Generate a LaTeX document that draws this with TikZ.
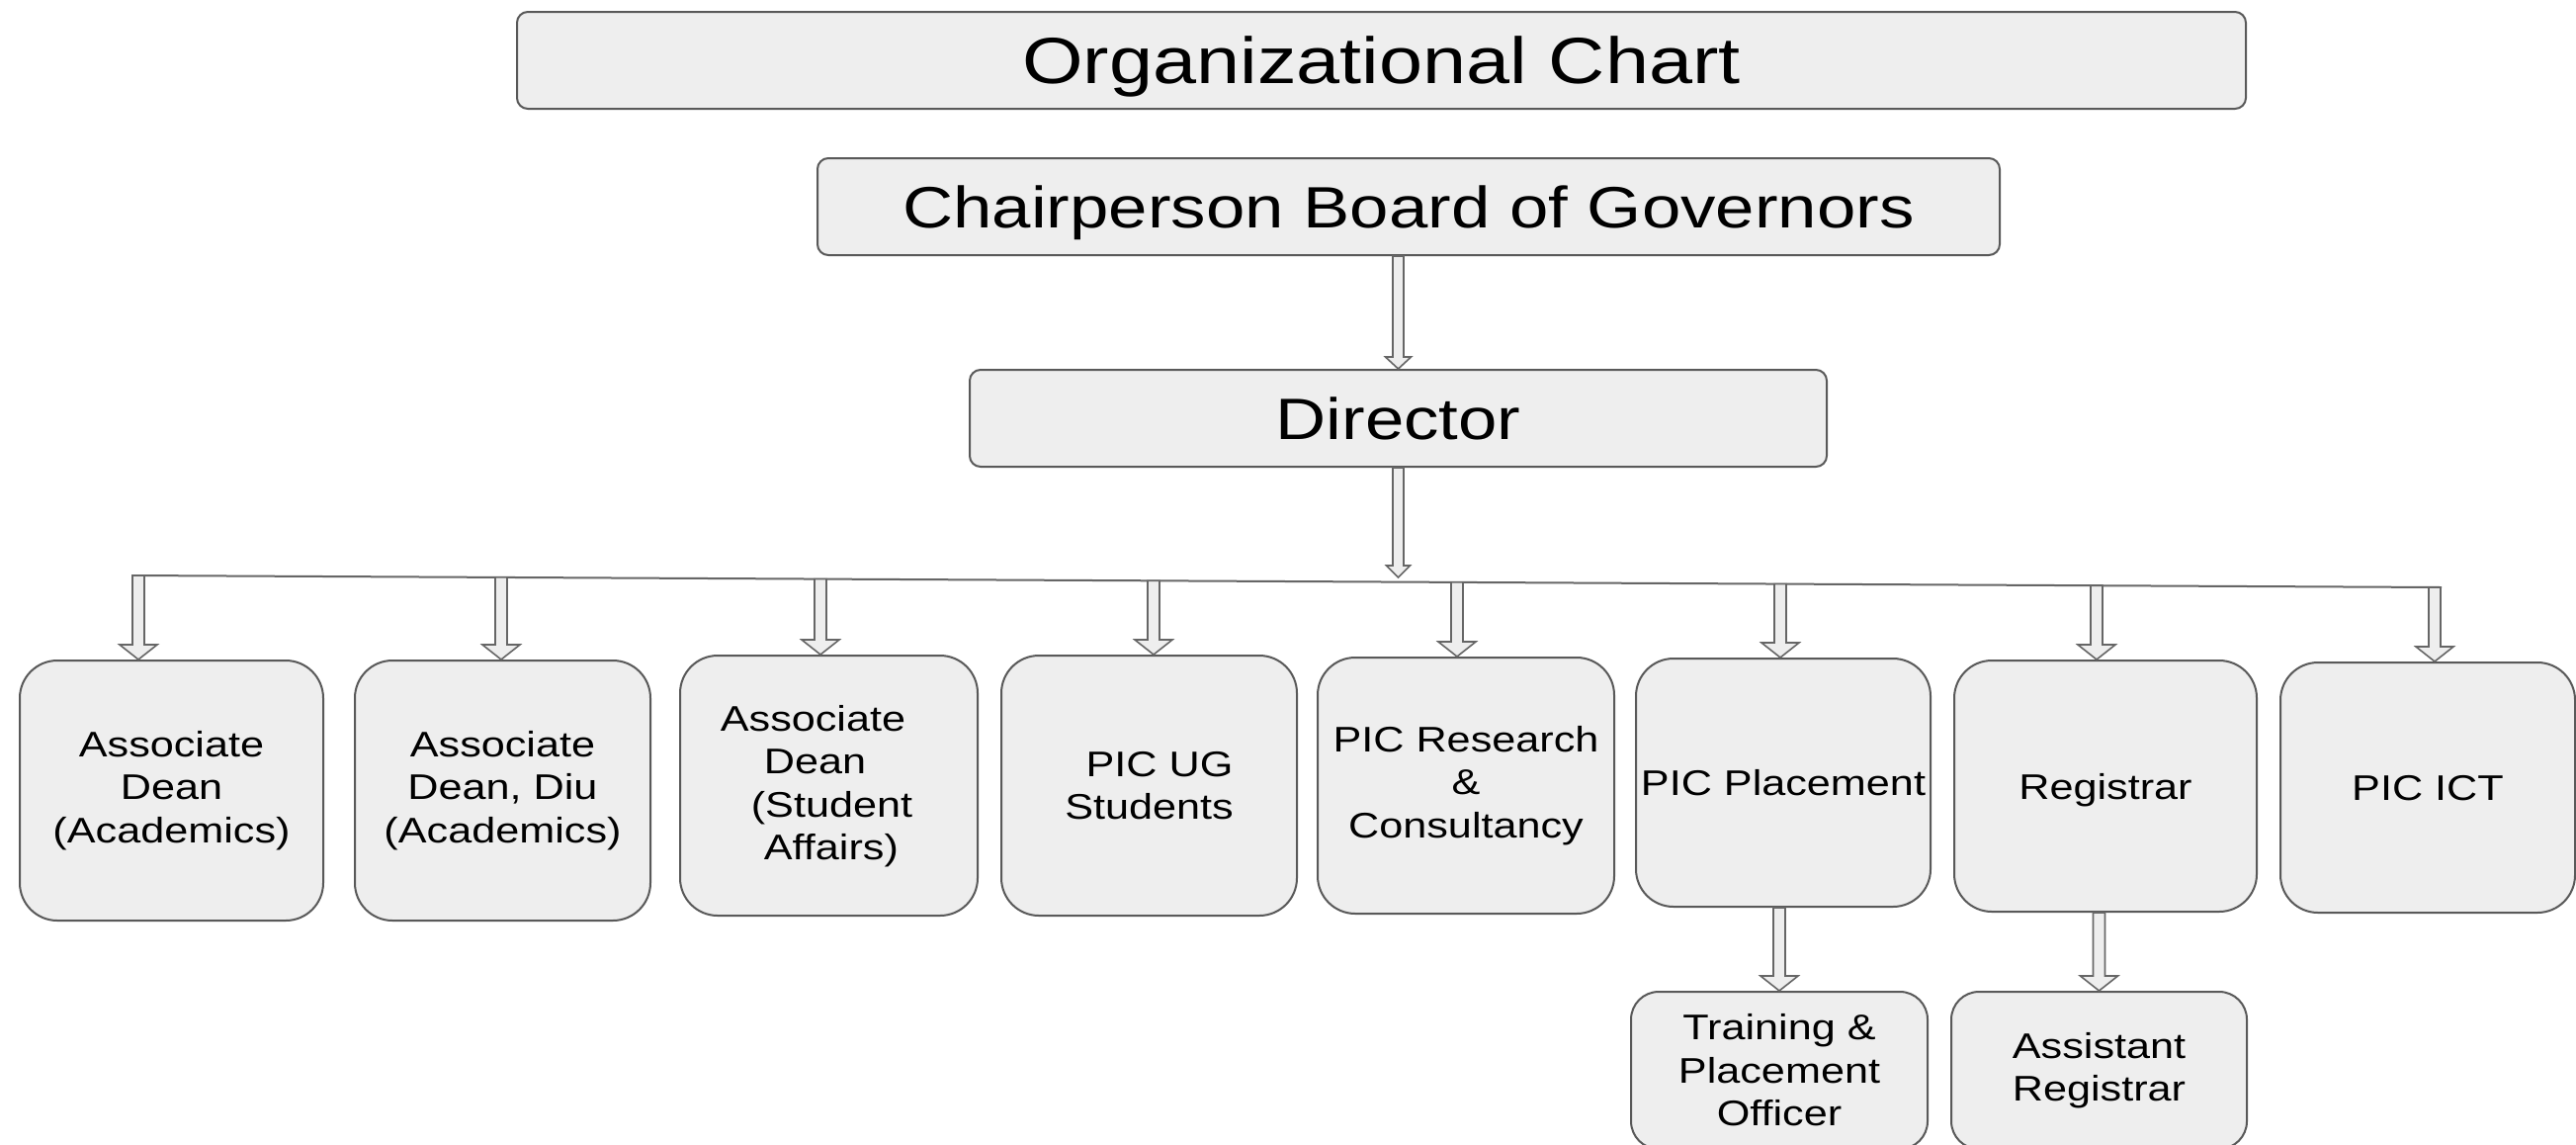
\documentclass[tikz,border=0pt]{standalone}
\usepackage{fontspec}
\setmainfont{Liberation Sans}[FakeStretch=1.2]
\usetikzlibrary{calc}
\definecolor{boxfill}{HTML}{EEEEEE}
\definecolor{boxline}{HTML}{595959}
\definecolor{arrline}{HTML}{666666}

\tikzset{
  headbox/.style={draw=boxline, fill=boxfill, line width=2pt, rounded corners=11pt,
    inner sep=0pt, text height=#1, text depth=0pt},
  unitbox/.style={draw=boxline, fill=boxfill, line width=2pt, rounded corners=38pt,
    inner sep=0pt, align=center, font=\fontsize{36}{43.5}\selectfont},
  subbox/.style={unitbox, rounded corners=28pt},
  txt/.style={inner sep=0pt, font=\fontsize{36}{43.5}\selectfont},
  conn/.style={draw=arrline, line width=2pt},
  % hollow block arrow: shaft width / head width / head length,
  % vertical at the x of its start point, tip at the y of its target
  blockarr/.style n args={3}{draw=arrline, fill=boxfill, line width=1.6pt,
    to path={let \p1=(\tikztostart), \p2=(\tikztotarget) in
      ({\x1-0.5*#1},\y1) -- ({\x1-0.5*#1},{\y2+#3}) -- ({\x1-0.5*#2},{\y2+#3})
      -- (\x1,\y2) -- ({\x1+0.5*#2},{\y2+#3}) -- ({\x1+0.5*#1},{\y2+#3})
      -- ({\x1+0.5*#1},\y1) -- cycle}},
  childarr/.style={blockarr={12pt}{38pt}{15pt}}
}

\begin{document}
\begin{tikzpicture}[x=1pt, y=-1pt]
  \clip (0,0) rectangle (2606,1157);
  \fill[white] (0,0) rectangle (2606,1157);

  % top of the hierarchy
  \node[headbox=47pt, minimum width=1749pt, minimum height=98pt,
        font=\fontsize{66}{79}\selectfont] (title) at (1397.5,61) {Organizational Chart};
  \node[headbox=42pt, minimum width=1196pt, minimum height=98pt,
        font=\fontsize{59}{71}\selectfont] (chair) at (1425,209) {Chairperson Board of Governors};
  \node[headbox=42pt, minimum width=867pt, minimum height=98pt,
        font=\fontsize{59}{71}\selectfont] (dir) at (1414.5,423) {Director};

  % units reporting to the director
  \node[unitbox, minimum width=307pt, minimum height=263pt] (ad1) at (173.5,799.5)
    {Associate\\Dean\\(Academics)};
  \node[unitbox, minimum width=299pt, minimum height=263pt] (ad2) at (508.5,799.5)
    {Associate\\Dean, Diu\\(Academics)};
  \node[unitbox, minimum width=301pt, minimum height=263pt] (ad3) at (838.5,794.5) {};
  \node[txt, align=left] (ad3t) at (826,795)
    {Associate\\\hspace*{44pt}Dean\\\hspace*{31pt}(Student\\\hspace*{44pt}Affairs)};
  \node[unitbox, minimum width=299pt, minimum height=263pt] (ug) at (1162.5,794.5)
    {\hspace*{21pt}PIC UG\\Students};
  \node[unitbox, minimum width=300pt, minimum height=259pt] (res) at (1483,794.5)
    {PIC Research\\\&\\Consultancy};
  \node[unitbox, minimum width=298pt, minimum height=251pt, text height=26pt, text depth=0pt]
    (plc) at (1804,791.5) {PIC Placement};
  \node[unitbox, minimum width=306pt, minimum height=254pt, text height=26pt, text depth=0pt]
    (reg) at (2130,795) {Registrar};
  \node[unitbox, minimum width=298pt, minimum height=253pt, text height=26pt, text depth=0pt]
    (ict) at (2456,796.5) {PIC ICT};

  % second level under placement and registrar
  \node[subbox, minimum width=300pt, minimum height=159pt] (tpo) at (1800,1082.5)
    {Training \&\\Placement\\Officer};
  \node[subbox, minimum width=299pt, minimum height=159pt] (areg) at (2123.5,1082.5)
    {Assistant\\Registrar};

  % distribution bar below the director
  \coordinate (barL) at (134,582);
  \coordinate (barR) at (2470,594);
  \coordinate (hub) at (1415,584);
  \draw[conn] (barL) -- (barR);

  \coordinate (s1) at (140,582.0);
  \coordinate (s2) at (507,583.9);
  \coordinate (s3) at (830,585.6);
  \coordinate (s4) at (1167,587.3);
  \coordinate (s5) at (1474,588.9);
  \coordinate (s6) at (1801,590.6);
  \coordinate (s7) at (2121,592.2);
  \coordinate (s8) at (2463,594.0);

  % arrows
  \draw[blockarr={11pt}{26pt}{12pt}] (dir.north |- chair.south) to (dir.north);
  \draw[blockarr={11pt}{24pt}{12pt}] (dir.south) to (hub);
  \draw[childarr] (s1) to (ad1.north);
  \draw[childarr] (s2) to (ad2.north);
  \draw[childarr] (s3) to (ad3.north);
  \draw[childarr] (s4) to (ug.north);
  \draw[childarr] (s5) to (res.north);
  \draw[childarr] (s6) to (plc.north);
  \draw[childarr] (s7) to (reg.north);
  \draw[childarr] (s8) to (ict.north);
  \draw[childarr] (tpo.north |- plc.south) to (tpo.north);
  \draw[childarr] (areg.north |- reg.south) to (areg.north);
\end{tikzpicture}
\end{document}
